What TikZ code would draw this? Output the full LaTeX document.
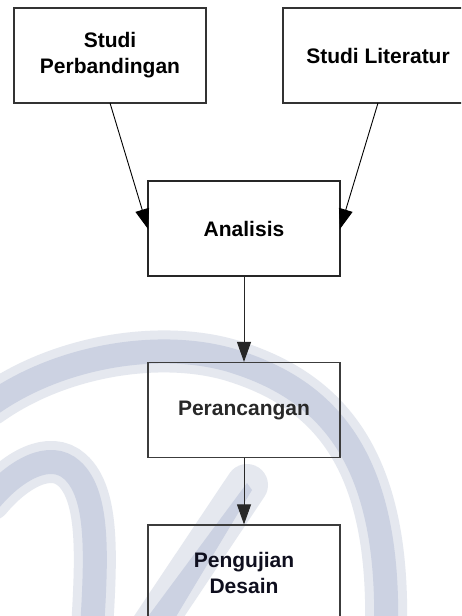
\documentclass[tikz,border=0pt]{standalone}
\usepackage{fontspec}
\setmainfont{Liberation Sans}
\usetikzlibrary{arrows.meta}
\definecolor{wm}{RGB}{204,210,226}
\definecolor{wmhalo}{RGB}{229,232,239}
\definecolor{boxline}{RGB}{60,60,60}
\definecolor{darktxt}{RGB}{40,40,40}
\tikzset{
  stepbox/.style={draw=boxline, line width=1.2pt, fill=none, minimum width=192pt, minimum height=95pt, inner sep=0pt, align=center, font=\fontsize{21}{26}\selectfont\bfseries},
  conn/.style={line width=0.9pt, -{Triangle[length=20pt,width=14pt]}},
  halo/.style={line width=42pt, wmhalo, line cap=round},
  stroke/.style={line width=24pt, wm, line cap=round},
}
\begin{document}
\begin{tikzpicture}[x=1pt,y=-1pt]
\useasboundingbox (0,0) rectangle (461,616);
\clip (0,0) rectangle (461,616);
\fill[white] (0,0) rectangle (461,616);
% watermark
\draw[halo] (-10,405) .. controls (60,355) and (160,340) .. (230,360) .. controls (330,390) and (390,460) .. (386,630);
\draw[halo] (-10,500) .. controls (15,470) and (50,450) .. (72,470) .. controls (100,495) and (96,560) .. (92,630);
\draw[halo] (247,485) -- (150,630);
\draw[stroke] (-10,405) .. controls (60,355) and (160,340) .. (230,360) .. controls (330,390) and (390,460) .. (386,630);
\draw[stroke] (-10,500) .. controls (15,470) and (50,450) .. (72,470) .. controls (100,495) and (96,560) .. (92,630);
\fill[wm] (247,483) -- (252,490) -- (168,630) -- (138,630) -- cycle;
% boxes
\node[stepbox, draw=black!80] (sp) at (110,55.5) {Studi\\Perbandingan};
\node[stepbox, draw=black!80, minimum width=190pt] (sl) at (378,55.5) {Studi Literatur};
\node[stepbox, draw=black!85] (an) at (244,228.5) {Analisis};
\node[stepbox, text=darktxt] (pr) at (244,410) {Perancangan};
\node[stepbox, text={rgb,255:red,15;green,15;blue,30}, minimum height=96pt] (pd) at (244,573) {Pengujian\\Desain};
% connectors
\coordinate (spb) at (110,103);
\coordinate (slb) at (378,103);
\coordinate (anl) at (148,229);
\coordinate (anr) at (340,229);
\draw[conn] (spb) -- (anl);
\draw[conn] (slb) -- (anr);
\draw[conn, draw=black!85, fill=black!85] (an.south) -- (pr.north);
\draw[conn, draw=darktxt, fill=darktxt] (pr.south) -- (pd.north);
\end{tikzpicture}
\end{document}
